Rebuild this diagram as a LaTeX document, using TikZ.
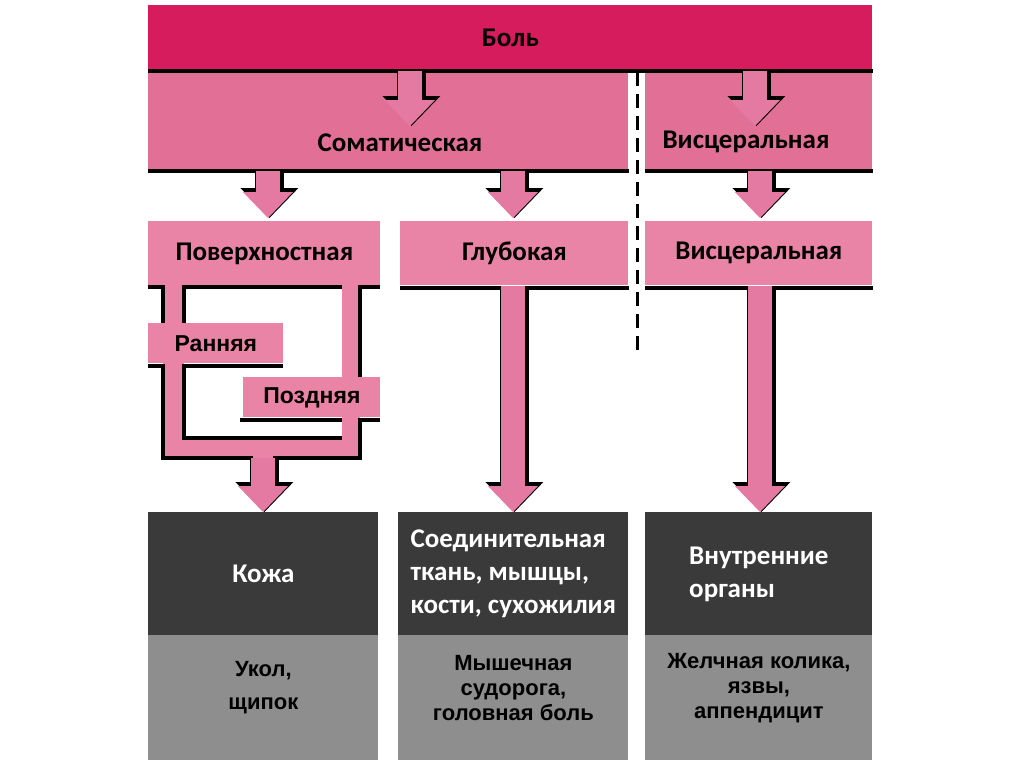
\documentclass[tikz,border=0pt]{standalone}
\usepackage{fontspec}
\setmainfont{Carlito}
\newfontfamily\bookfont{Liberation Sans}
\usetikzlibrary{arrows.meta,calc}
\definecolor{crimson}{RGB}{214,28,92}
\definecolor{bandpink}{RGB}{226,112,150}
\definecolor{boxpink}{RGB}{234,132,166}
\definecolor{arrowpink}{RGB}{228,122,162}
\definecolor{darkbox}{RGB}{58,58,58}
\definecolor{graybox}{RGB}{142,142,142}
\begin{document}
\begin{tikzpicture}[x=0.5pt,y=-0.5pt]
        % Styles
        \tikzstyle{block}=[inner sep=0pt,anchor=north west,font=\fontsize{13.5}{16.5}\selectfont\bfseries]
        \tikzstyle{band}=[block,fill=bandpink]
        \tikzstyle{pink box}=[block,fill=boxpink]
        \tikzstyle{small box}=[pink box,font=\bookfont\fontsize{11.5}{13}\selectfont\bfseries]
        \tikzstyle{organ box}=[block,fill=darkbox,text=white,align=left]
        \tikzstyle{example box}=[block,fill=graybox]
        \tikzstyle{example text}=[inner sep=0pt,align=center,yshift=5pt,font=\bookfont\fontsize{11}{12.5}\selectfont\bfseries]
        \tikzstyle{band text}=[inner sep=0pt,font=\fontsize{13.5}{16.5}\selectfont\bfseries]
        \tikzstyle{edge line}=[line width=2pt,black]
        \tikzstyle{channel}=[fill=boxpink]
        \tikzstyle{divider}=[line width=1.5pt,dash pattern=on 7pt off 4pt]
        \tikzstyle{fat arrow}=[line width=12pt,draw=arrowpink,-{Triangle[width=25pt,length=13pt,line width=0pt]},
            preaction={draw=black,line width=14.5pt,transform canvas={xshift=0.7pt},-{Triangle[width=29pt,length=15pt,line width=0pt]}}]
        %The graphic
        \fill[white] (0,0) rectangle (1024,767);
        \useasboundingbox (0,0) rectangle (1024,767);
        %bands
        \node[block,fill=crimson,minimum width=362pt,minimum height=32.5pt] (pain) at (148,5) {Боль};
        \node[band,minimum width=240pt,minimum height=49pt] (som) at (148,72) {};
        \node[band,minimum width=113.5pt,minimum height=49pt] (visc) at (645,72) {};
        \node[band text] (somlabel) at (400,143) {Соматическая};
        \node[band text] (visclabel) at (746,142) {Висцеральная};
        %pain types
        \node[pink box,minimum width=116pt,minimum height=32pt] (surf) at (148,221) {Поверхностная};
        \node[pink box,minimum width=114pt,minimum height=32pt] (deep) at (400,221) {Глубокая};
        \node[pink box,minimum width=113.5pt,minimum height=32pt] (visc2) at (645,221) {Висцеральная};
        %channels under surf
        \fill[channel] (163,285) rectangle (184,458);
        \fill[channel] (342,285) rectangle (360,458);
        \fill[channel] (163,438) rectangle (360,458);
        \node[small box,minimum width=67.5pt,minimum height=20pt] (early) at (148,323) {Ранняя};
        \node[small box,minimum width=68.5pt,minimum height=20pt] (late) at (243,377) {Поздняя};
        %organs
        \node[organ box,minimum width=115pt,minimum height=61.5pt] (skin) at (148,512) {Кожа};
        \node[organ box,minimum width=115pt,minimum height=61.5pt] (tissue) at (398,512) {Соединительная\\ткань, мышцы,\\кости, сухожилия};
        \node[organ box,minimum width=113.5pt,minimum height=61.5pt] (organs) at (645,512) {Внутренние\\органы};
        \node[example box,minimum width=115pt,minimum height=62.5pt,
            label={[example text]center:{Укол,\\[4pt]щипок}}] (skinex) at (148,635) {};
        \node[example box,minimum width=115pt,minimum height=62.5pt,
            label={[example text]center:{Мышечная\\судорога,\\головная боль}}] (tissueex) at (398,635) {};
        \node[example box,minimum width=113.5pt,minimum height=62.5pt,
            label={[example text]center:{Желчная колика,\\язвы,\\аппендицит}}] (organsex) at (645,635) {};
        %black edges
        \draw[edge line] (pain.south west) -- (pain.south east);
        \draw[edge line] (som.south west) -- (som.south east);
        \draw[edge line] (visc.south west) -- (visc.south east);
        \draw[edge line] ([yshift=-1pt]deep.south west) -- ([yshift=-1pt]deep.south east);
        \draw[edge line] ([yshift=-1pt]visc2.south west) -- ([yshift=-1pt]visc2.south east);
        \draw[edge line] (148,287) -- (163,287) -- (163,323);
        \draw[edge line] (184,323) -- (184,287) -- (342,287);
        \draw[edge line] (360,377) -- (360,287) -- (380,287);
        \draw[edge line] (148,366) -- (163,366) -- (163,458) -- (253,458);
        \draw[edge line] (283,366) -- (184,366) -- (184,438) -- (342,438);
        \draw[edge line] (240,420) -- (342,420);
        \draw[edge line] (380,420) -- (360,420) -- (360,458) -- (273,458);
        \draw[divider] (637,72) -- (637,355);
        %arrows
        \coordinate (merge) at (263,458);
        \draw[fat arrow] (410,0 |- pain.south) -- ($(410,0 |- som.north)+(0,54)$);
        \draw[fat arrow] (755,0 |- pain.south) -- ($(755,0 |- visc.north)+(0,54)$);
        \draw[fat arrow] (268,0 |- som.south) -- ($(268,0 |- surf.north)+(0,-3)$);
        \draw[fat arrow] (513,0 |- som.south) -- ($(513,0 |- deep.north)+(0,-3)$);
        \draw[fat arrow] (760,0 |- visc.south) -- ($(760,0 |- visc2.north)+(0,-3)$);
        \draw[fat arrow] (513,0 |- deep.south) -- (513,0 |- tissue.north);
        \draw[fat arrow] (760,0 |- visc2.south) -- (760,0 |- organs.north);
        \draw[fat arrow] (merge) -- (skin.north -| merge);
\end{tikzpicture}
\end{document}
